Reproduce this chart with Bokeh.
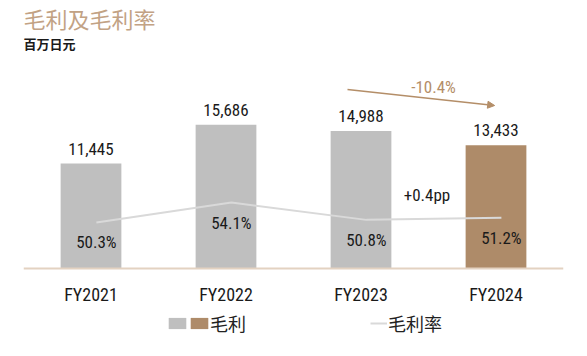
from bokeh.plotting import figure
from bokeh.models import (ColumnDataSource, FactorRange, Range1d, Label, Legend, LegendItem,
                          Arrow, NormalHead, Span)
from bokeh.transform import dodge
from bokeh.core.properties import value
from bokeh.embed import file_html
from bokeh.resources import INLINE

# ---- data ----
categories = ["FY2021", "FY2022", "FY2023", "FY2024"]
gross_profit = [11445, 15686, 14988, 13433]          # 百万日元
gross_margin = [50.3, 54.1, 50.8, 51.2]               # %
profit_labels = ["11,445", "15,686", "14,988", "13,433"]
margin_labels = ["50.3%", "54.1%", "50.8%", "51.2%"]
change_label = "-10.4%"
margin_change_label = "+0.4pp"

GRAY = "#bfbfbf"
TAN = "#ae8b69"
ACCENT = "#b48e68"
NUM_FONT = "Roboto Condensed"
CJK = "Noto Sans CJK SC"

p = figure(width=580, height=350, output_backend="svg", toolbar_location=None,
           x_range=FactorRange(factors=categories, range_padding=0),
           y_range=Range1d(-8942, 29226), x_axis_location=None, y_axis_location=None,
           min_border_left=23, min_border_right=17, min_border_top=0, min_border_bottom=0,
           outline_line_color=None, background_fill_color="white", border_fill_color="white")
p.extra_y_ranges = {"pct": Range1d(25.965, 92.505)}
p.xgrid.visible = False
p.ygrid.visible = False

src_gray = ColumnDataSource(dict(x=categories[:3], y=gross_profit[:3]))
src_tan = ColumnDataSource(dict(x=categories[3:], y=gross_profit[3:]))
src_line = ColumnDataSource(dict(x=categories, y=gross_margin, lab=margin_labels))
src_all = ColumnDataSource(dict(x=categories, y=gross_profit, lab=profit_labels,
                                base=[0] * len(categories)))

r_gray = p.vbar(x="x", top="y", width=0.45, source=src_gray, fill_color=GRAY, line_color=None)
r_tan = p.vbar(x="x", top="y", width=0.45, source=src_tan, fill_color=TAN, line_color=None)

# baseline (category axis line)
p.add_layout(Span(location=0, dimension="width", line_color="#e3d2c1", line_width=2))

r_line = p.line(x=dodge("x", 0.04, range=p.x_range), y="y", source=src_line,
                y_range_name="pct", line_color="#d9d9d9", line_width=2)

# value labels
p.text(x="x", y="y", text="lab", source=src_all, y_offset=-15,
       text_align="center", text_baseline="middle", text_font=value(NUM_FONT),
       text_font_size="17px", text_color="#1a1a1a")
p.text(x=dodge("x", 0.04, range=p.x_range), y="y", text="lab", source=src_line,
       y_range_name="pct", y_offset=20, text_align="center", text_baseline="middle",
       text_font=value(NUM_FONT), text_font_size="17px", text_color="#1a1a1a")

# category labels under the baseline
p.text(x="x", y="base", text="x", source=src_all, y_offset=26,
       text_align="center", text_baseline="middle", text_font=value(NUM_FONT),
       text_font_size="18px", text_color="#1a1a1a")

# annotations
p.add_layout(Arrow(end=NormalHead(size=7, fill_color=ACCENT, line_color=ACCENT),
                   x_start=2.4, y_start=19520, x_end=3.49, y_end=17775,
                   line_color=ACCENT, line_width=1.5))
p.add_layout(Label(x=3.037, y=19847, text=change_label, text_align="center",
                   text_baseline="middle", text_font=NUM_FONT, text_font_size="17px",
                   text_color=ACCENT))
p.add_layout(Label(x=2.989, y=8000, text=margin_change_label, text_align="center",
                   text_baseline="middle", text_font=NUM_FONT, text_font_size="17px",
                   text_color="#1a1a1a"))
p.add_layout(Label(x=0, y=27372, text="毛利及毛利率", text_align="left",
                   text_baseline="middle", text_font=CJK, text_font_size="22px",
                   text_color="#c2a284"))
p.add_layout(Label(x=0, y=24537, text="百万日元", text_align="left",
                   text_baseline="middle", text_font=CJK, text_font_size="13px",
                   text_font_style="bold", text_color="#1a1a1a"))

# legends
common = dict(orientation="horizontal", padding=0, margin=0, border_line_color=None,
              background_fill_alpha=0, label_width=0, label_height=20,
              label_text_font=CJK, label_text_font_size="18px",
              label_text_color="#222222")
leg1 = Legend(items=[LegendItem(label="", renderers=[r_gray]),
                     LegendItem(label="毛利", renderers=[r_tan])],
              location=(143, 14), glyph_width=22, glyph_height=14,
              label_standoff=0, spacing=0, **common)
leg2 = Legend(items=[LegendItem(label="毛利率", renderers=[r_line])],
              location=(347, 14), glyph_width=17, glyph_height=14,
              label_standoff=1, spacing=0, **common)
p.add_layout(leg1)
p.add_layout(leg2)

open("out.html", "w").write(file_html(p, INLINE))
